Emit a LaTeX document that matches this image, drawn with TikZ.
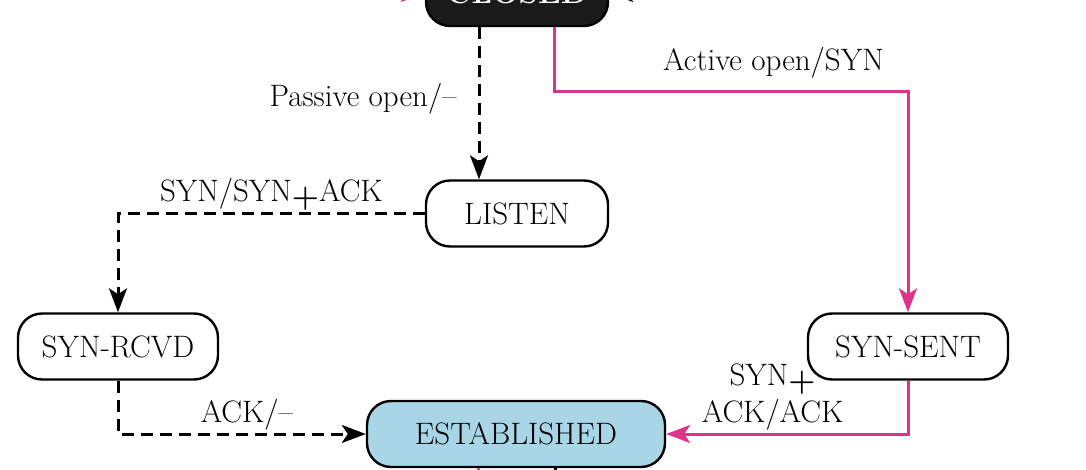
\documentclass[tikz,border=0pt]{standalone}
\usepackage{xcolor}
\usepackage{tikz}
\usetikzlibrary{positioning,calc,arrows.meta}
\definecolor{tcppink}{RGB}{221,52,138}
\definecolor{estblue}{RGB}{168,214,230}
\definecolor{closedgray}{RGB}{26,26,26}
\newcommand{\synplus}{\raisebox{-0.35ex}{\bfseries +}}

\begin{document}
\begin{tikzpicture}[x=0.5pt, y=-0.5pt,
    state/.style={draw, line width=1.2pt, rounded corners=12pt, minimum height=33pt, font=\fontsize{15.5}{18.5}\selectfont},
    lbl/.style={inner sep=1pt, text=black, font=\fontsize{15.5}{18.5}\selectfont},
    passive/.style={line width=1.5pt, dash pattern=on 6pt off 3.5pt, -{Stealth[length=12pt,width=9pt,inset=3pt]}},
    active/.style={line width=1.5pt, tcppink, -{Stealth[length=12pt,width=9pt,inset=3pt]}}]
    \useasboundingbox (0,0) rectangle (1086,470);
    \clip (0,0) rectangle (1086,470);

    \node[state, fill=closedgray, text=white, font=\fontsize{15.5}{18.5}\selectfont\bfseries, minimum width=91pt] (closed) at (517,-7) {CLOSED};
    \node[state, minimum width=91pt] (listen) at (517,213.5) {LISTEN};
    \node[state, minimum width=100pt] (synrcvd) at (118,346.5) {SYN-RCVD};
    \node[state, minimum width=100pt] (synsent) at (908,346.5) {SYN-SENT};
    \node[state, fill=estblue, minimum width=149pt] (estab) at (516,434) {ESTABLISHED};

    \coordinate (inleft) at (300,-7);
    \coordinate (inright) at (740,-7);
    \coordinate (outpink) at (478,540);
    \coordinate (outblack) at (555,540);

    \draw[active] (inleft) -- (closed.west);
    \draw[line width=1.5pt, -{Stealth[length=12pt,width=9pt,inset=3pt]}] (inright) -- (closed.east);

    \draw[passive] ([xshift=-19pt]closed.south) -- node[lbl, pos=0.47, left=9.5pt] {Passive open/--} ([xshift=-19pt]listen.north);
    \draw[active] ([xshift=18.5pt]closed.south) -- ++(0,64) -| node[lbl, pos=0.31, above=4.5pt] {Active open/SYN} (synsent.north);

    \draw[passive] (listen.west) -| node[lbl, pos=0.25, above] {SYN/SYN\synplus ACK} (synrcvd.north);
    \draw[passive] (synrcvd.south) |- node[lbl, pos=0.76, above] {ACK/--} (estab.west);
    \draw[active] (synsent.south) |- node[lbl, pos=0.78, above, align=center] {SYN\synplus\\ACK/ACK} (estab.east);

    \draw[line width=1.5pt, tcppink] ([xshift=-19pt]estab.south) -- (outpink);
    \draw[line width=1.5pt] ([xshift=19.5pt]estab.south) -- (outblack);
\end{tikzpicture}
\end{document}
